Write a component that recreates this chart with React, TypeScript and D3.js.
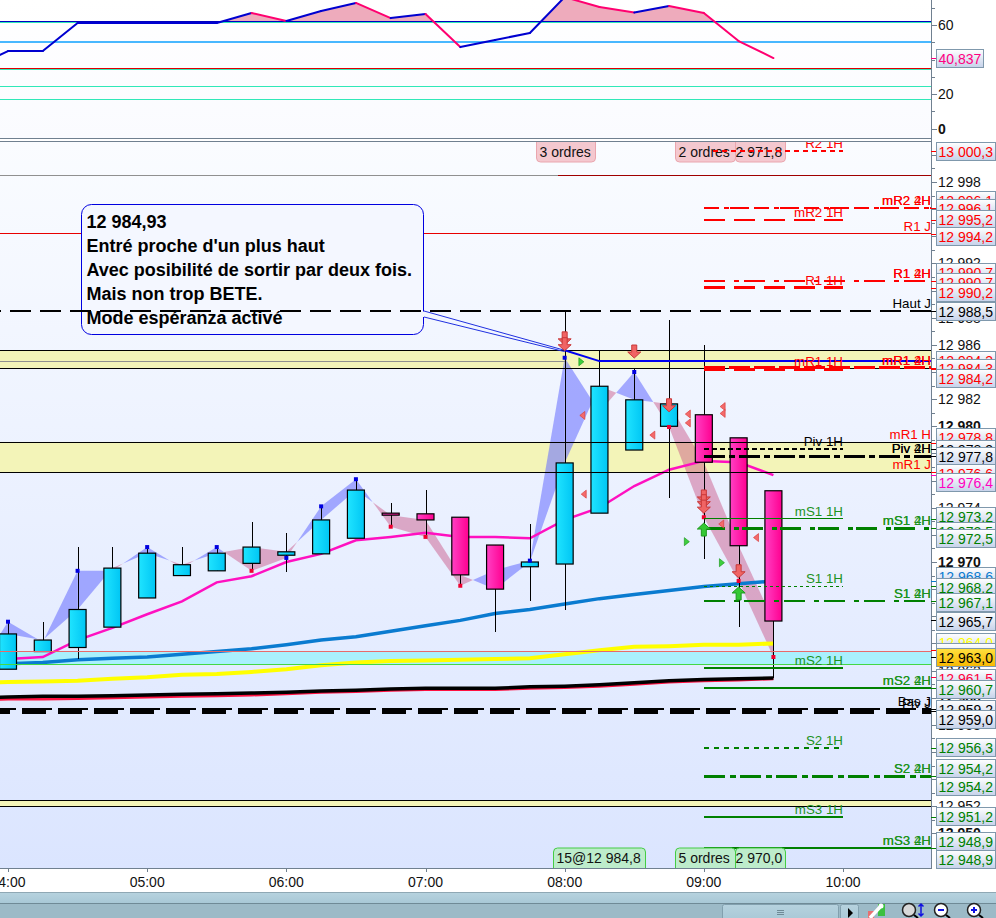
import React, { useEffect, useRef } from 'react';
import * as d3 from 'd3';

// first bar sits just off the left edge, only its lines reach into the picture
const barTimes = ['03:45','04:00','04:15','04:30','04:45','05:00','05:15','05:30','05:45','06:00','06:15','06:30','06:45','07:00','07:15','07:30','07:45','08:00','08:15','08:30','08:45','09:00','09:15','09:30'];
const candleOpen = [12961.0,12962.1,12963.4,12963.7,12965.2,12967.35,12969.0,12969.35,12969.9,12970.5,12970.6,12971.75,12973.6,12973.55,12973.3,12971.25,12969.65,12969.85,12973.6,12978.25,12980.0,12980.85,12979.15,12975.25];
const candleHigh = [12961.5,12965.6,12965.6,12971.1,12971.1,12971.1,12971.1,12971.1,12972.95,12972.15,12974.1,12976.1,12974.35,12975.3,12973.3,12971.25,12972.8,12988.4,12985.55,12984.3,12987.85,12986.0,12979.15,12975.25];
const candleLow = [12960.9,12962.1,12963.4,12962.85,12965.2,12967.35,12969.0,12969.35,12969.25,12969.25,12970.6,12971.75,12972.6,12971.85,12968.15,12964.85,12967.1,12966.5,12973.6,12978.25,12974.7,12970.2,12965.2,12961.45];
const candleClose = [12961.0,12964.7,12964.25,12966.5,12969.55,12970.65,12969.8,12970.65,12971.1,12970.75,12973.1,12975.3,12973.45,12973.1,12969.05,12968.0,12970.0,12977.3,12982.95,12981.95,12981.65,12977.35,12971.2,12965.65];
const swingLine = [12961.5,12965.6,12964.1,12969.35,12969.35,12971.1,12969.55,12971.1,12969.35,12970.3,12974.1,12976.1,12972.6,12971.85,12968.25,12969.4,12970.1,12985.05,12981.05,12984.0,12979.95,12973.3,12968.6,12963.0];
const maMagenta = [12962.7,12962.85,12963.0,12964.25,12965.15,12966.15,12967.1,12968.5,12968.95,12970.0,12970.6,12971.6,12971.85,12972.15,12971.85,12971.85,12971.75,12973.1,12974.0,12975.6,12976.8,12977.45,12977.35,12976.4];
const maBlue = [12962.3,12962.5,12962.6,12962.8,12962.9,12963.0,12963.2,12963.4,12963.6,12963.9,12964.25,12964.5,12964.9,12965.3,12965.7,12966.2,12966.5,12966.9,12967.3,12967.6,12967.9,12968.2,12968.4,12968.6];
const maYellow = [12961.1,12961.15,12961.2,12961.25,12961.4,12961.5,12961.7,12961.75,12961.9,12962.1,12962.4,12962.6,12962.7,12962.75,12962.8,12962.85,12962.9,12963.2,12963.5,12963.75,12963.8,12963.9,12963.9,12964.0];
const maBlack = [12960.0,12960.05,12960.1,12960.1,12960.15,12960.2,12960.25,12960.3,12960.35,12960.4,12960.5,12960.55,12960.65,12960.7,12960.7,12960.7,12960.8,12960.85,12960.95,12961.1,12961.25,12961.35,12961.4,12961.45];
const maRed = [12959.85,12959.9,12959.9,12959.95,12960.0,12960.05,12960.1,12960.15,12960.2,12960.3,12960.4,12960.45,12960.55,12960.6,12960.6,12960.6,12960.7,12960.75,12960.85,12961.0,12961.15,12961.25,12961.3,12961.4];

const rsiValues = [35,44.9,44.9,61.2,61.2,61.2,61.2,61.2,67,62.3,68.1,72.8,64,66.4,47.2,51.3,55.4,76.2,70.4,67.2,71,67,50.7,40.837];
const rsiLevels = [62,61.4,50,34.8,34.3,24.5,17];
const rsiLevelColors = ['#0000c0','#30e8b8','#48b8ff','#dd0000','#30e8b8','#30e8b8','#30e8b8'];
const rsiTicks = [0,10,20,30,40,50,60,70];
const rsiLabels = [60,20,0];

const highMarkers = ['04:00','04:30','05:00','05:30','06:00','06:15','06:30','07:45','08:00','08:30'];
const lowMarkers = ['05:45','06:45','07:00','07:15','08:45','09:00','09:15','09:30'];

const bandPrices = [[12985.6,12984.3],[12978.85,12976.6],[12952.45,12952.0]];
const cyanBand = [12963.45,12962.45];
const priceTicks = d3.range(12950, 13001);

const shortNames = ['R2 1H','mR2 1H','R1 1H','mR1 1H','Piv 1H','mS1 1H','S1 1H','mS2 1H','S2 1H','mS3 1H'];
const shortPrices = [13000.3,12995.2,12990.2,12984.2,12978.3,12973.2,12968.2,12962.2,12956.3,12951.2];
const shortColors = ['#ff0000','#ff0000','#ff0000','#ff0000','#000000','#008000','#008000','#008000','#008000','#008000'];
const shortDash = ['5 4','21 9','21 9','21 9','5 3','none','3 3','none','5 5','none'];
const shortWidth = [2,2,3,3,2,1,1,2,2,2];

const longNames = ['mR2','R1','mR1','Piv','mS1','S1','mS2','S2','mS3'];
const longPrices = [12996.1,12990.7,12984.3,12977.8,12972.5,12967.1,12960.7,12954.2,12948.9];
const longColors = ['#ff0000','#ff0000','#ff0000','#000000','#008000','#008000','#008000','#008000','#008000'];
const longDash = ['15 5 5 1 19 5','21 9 5 5','21 4','21 4 6 4','21 9 5 3','21 9 5 5','none','21 5 6 4','none'];
const longWidth = [2,2,3,3,3,2,2,2.5,2];

const dayNames = ['R1 J','Haut J','mR1 H','mR1 J','Bas J','Piv J'];
const dayPrices = [12994.2,12988.5,12978.85,12976.6,12959.2,12959.0];
const dayColors = ['#ff0000','#000000','#ff0000','#ff0000','#000000','#000000'];

const tagValues = [13000.3,12996.1,12996.1,12995.2,12994.2,12990.7,12990.7,12990.2,12988.5,12984.3,12984.3,12984.2,12978.8,12978.3,12977.8,12976.6,12976.4,12973.2,12972.5,12972.5,12968.6,12968.2,12967.1,12965.7,12964.0,12963.5,12963.0,12961.5,12960.7,12959.2,12959.0,12956.3,12954.2,12954.2,12951.2,12948.9,12948.9];
const tagColors = ['#ff0000','#ff0000','#ff0000','#ff0000','#ff0000','#ff0000','#ff0000','#ff0000','#000000','#ff0000','#ff0000','#ff0000','#ff0000','#000000','#000000','#ff0000','#ff00c0','#008000','#008000','#008000','#0a7bd0','#008000','#008000','#000000','#ffff00','#ff0000','#000000','#ff0040','#008000','#000000','#000000','#008000','#008000','#008000','#008000','#008000','#008000'];
// tags get pushed around by the platform so they don't collide, these are the box tops
const tagTops = [142,191,199,210,227,263,273,283,302,351,359,369,428,440,447,464,473,507,522,529,567,578,593,612,633,643,648,669,680,700,710,738,759,777,807,832,850];

const triangleRightTimes = [8.12,8.878,9.13];
const triangleRightPrices = [12984.75,12971.5,12969.95];
const triangleLeftTimes = [8.127,8.137,8.63,8.885,8.885,9.135,9.135,9.125,9.375];
const triangleLeftPrices = [12980.8,12975,12979.35,12980.9,12980.25,12981.45,12980.95,12972.8,12971.8];
const downArrowTimes = [8,8,8.5,8.75,9,9,9,9.25];
const downArrowTips = [12986,12985.57,12985.03,12981.07,12974.35,12974,12973.6,12968.84];
const upArrowTimes = [9,9.25];
const upArrowTips = [12972.87,12968.16];

const noteLines = ["12 984,93", "Entré proche d'un plus haut", 'Avec posibilité de sortir par deux fois.', 'Mais non trop BETE.', 'Mode espéranza activé'];
const axisHours = [4,5,6,7,8,9,10];
const FONT = '"Liberation Sans", Arial, sans-serif';

const hourOf = (t: string) => +t.slice(0, 2) + +t.slice(3) / 60;

const frPrice = (v: number, digits = 1) => {
  const s = v.toFixed(digits).replace('.', ',');
  const cut = s.indexOf(',') < 0 ? s.length : s.indexOf(',');
  return s.slice(0, cut - 3) + ' ' + s.slice(cut - 3);
};

const App = () => {
  const ref = useRef<SVGSVGElement | null>(null);

  useEffect(() => {
    const svg = d3.select(ref.current);
    svg.selectAll('*').remove();

    const x = d3.scaleLinear().domain([4, 10]).range([8, 843]);
    const y = d3.scaleLinear().domain([12998, 12970]).range([182, 562]);
    const rsiY = d3.scaleLinear().domain([0, 60]).range([128.5, 25]);
    const right = 931;
    const px = (v: number) => Math.round(v) + 0.5;

    const defs = svg.append('defs');
    const gradient = (id: string, horizontal: boolean, stops: string[]) => {
      const g = defs.append('linearGradient').attr('id', id)
        .attr('x1', 0).attr('y1', 0).attr('x2', horizontal ? 1 : 0).attr('y2', horizontal ? 0 : 1);
      stops.forEach((c, i) => g.append('stop').attr('offset', i / (stops.length - 1)).attr('stop-color', c));
    };
    gradient('bull', true, ['#20e4ff', '#00c6f4']);
    gradient('bear', true, ['#ff40c4', '#ff0090']);
    gradient('panel', false, ['#fafcff', '#dbe5ff']);
    gradient('panelTop', false, ['#ffffff', '#fafbff']);
    gradient('tag', false, ['#ffffff', '#c6d2ea']);
    gradient('gold', false, ['#ffe040', '#f8b800']);
    gradient('toolbar', false, ['#b6d2de', '#a8c8d6']);
    defs.append('clipPath').attr('id', 'priceClip').append('rect').attr('x', 0).attr('y', 142).attr('width', right).attr('height', 726);
    defs.append('clipPath').attr('id', 'rsiClip').append('rect').attr('x', 0).attr('y', 0).attr('width', right).attr('height', 138);
    defs.append('clipPath').attr('id', 'rsiFillClip').append('rect').attr('x', 0).attr('y', 0).attr('width', right).attr('height', rsiY(62));

    svg.append('rect').attr('width', 996).attr('height', 918).attr('fill', '#ffffff');
    svg.append('rect').attr('width', right).attr('height', 138).attr('fill', 'url(#panelTop)');
    svg.append('rect').attr('y', 141).attr('width', right).attr('height', 727).attr('fill', 'url(#panel)');

    const hours = barTimes.map(hourOf);

    // RSI panel
    const rsi = svg.append('g').attr('clip-path', 'url(#rsiClip)');
    const rsiArea = d3.area<number>().x((_, i) => x(hours[i])).y0(rsiY(62)).y1(d => rsiY(d));
    rsi.append('path').attr('d', rsiArea(rsiValues)).attr('fill', '#eeabbc').attr('clip-path', 'url(#rsiFillClip)');
    rsiLevels.forEach((l, i) => {
      rsi.append('line').attr('x1', 0).attr('x2', right).attr('y1', rsiY(l)).attr('y2', rsiY(l))
        .attr('stroke', rsiLevelColors[i]).attr('stroke-width', i === 2 ? 2 : 1).attr('shape-rendering', 'crispEdges');
    });
    d3.pairs(rsiValues).forEach(([a, b], i) => {
      rsi.append('line')
        .attr('x1', x(hours[i])).attr('y1', rsiY(a))
        .attr('x2', x(hours[i + 1])).attr('y2', rsiY(b))
        .attr('stroke', b < a ? '#ff0070' : '#0000d0').attr('stroke-width', 2).attr('stroke-linecap', 'round');
    });

    // price panel
    const main = svg.append('g').attr('clip-path', 'url(#priceClip)');
    bandPrices.forEach(([hi, lo]) => {
      main.append('rect').attr('x', 0).attr('width', right).attr('y', y(hi)).attr('height', y(lo) - y(hi)).attr('fill', '#f3f4b8');
    });
    main.append('rect').attr('x', 0).attr('width', right).attr('y', y(cyanBand[0])).attr('height', y(cyanBand[1]) - y(cyanBand[0])).attr('fill', '#a9f0fd');

    // cloud between the swing line and the closes, split where they cross
    d3.pairs(hours).forEach(([h0, h1], i) => {
      const a0 = swingLine[i] - candleClose[i];
      const a1 = swingLine[i + 1] - candleClose[i + 1];
      const colorOf = (d: number) => (d > 0 ? '#6a72ff' : '#c84e80');
      const opacityOf = (d: number) => (d > 0 ? 0.58 : 0.45);
      const poly = (pts: number[][], d: number) => {
        main.append('polygon')
          .attr('points', pts.map(p => `${x(p[0])},${y(p[1])}`).join(' '))
          .attr('fill', colorOf(d)).attr('fill-opacity', opacityOf(d));
      };
      if (a0 * a1 < 0) {
        const t = a0 / (a0 - a1);
        const hc = h0 + t * (h1 - h0);
        const pc = candleClose[i] + t * (candleClose[i + 1] - candleClose[i]);
        poly([[h0, swingLine[i]], [hc, pc], [h0, candleClose[i]]], a0);
        poly([[hc, pc], [h1, swingLine[i + 1]], [h1, candleClose[i + 1]]], a1);
      } else {
        poly([[h0, swingLine[i]], [h1, swingLine[i + 1]], [h1, candleClose[i + 1]], [h0, candleClose[i]]], a0 + a1);
      }
    });

    const maLine = d3.line<number>().x((_, i) => x(hours[i])).y(d => y(d));
    const drawMa = (values: number[], color: string, width: number) => {
      main.append('path').attr('d', maLine(values)).attr('fill', 'none').attr('stroke', color).attr('stroke-width', width);
    };
    drawMa(maRed, '#ff1040', 3);
    drawMa(maBlack, '#000000', 3.5);
    drawMa(maYellow, '#ffff00', 4);
    drawMa(maBlue, '#0a7bd0', 3.5);
    drawMa(maMagenta, '#ff10c0', 2.5);

    // wicks and bodies
    barTimes.forEach((t, i) => {
      const cx = x(hourOf(t));
      const bull = candleClose[i] >= candleOpen[i];
      const top = y(Math.max(candleOpen[i], candleClose[i]));
      const bottom = y(Math.min(candleOpen[i], candleClose[i]));
      main.append('line').attr('x1', px(cx)).attr('x2', px(cx)).attr('y1', y(candleHigh[i])).attr('y2', y(candleLow[i]))
        .attr('stroke', '#000').attr('shape-rendering', 'crispEdges');
      main.append('rect').attr('x', cx - 8.5).attr('width', 17).attr('y', top).attr('height', bottom - top)
        .attr('fill', bull ? 'url(#bull)' : 'url(#bear)').attr('stroke', '#000').attr('stroke-width', 1.2);
    });

    // swing markers
    highMarkers.forEach(t => {
      const i = barTimes.indexOf(t);
      main.append('rect').attr('x', x(hours[i]) - 2).attr('y', y(swingLine[i]) - 2).attr('width', 4).attr('height', 4).attr('fill', '#0000e0');
    });
    lowMarkers.forEach(t => {
      const i = barTimes.indexOf(t);
      main.append('rect').attr('x', x(hours[i]) - 2).attr('y', y(swingLine[i]) - 2).attr('width', 4).attr('height', 4).attr('fill', '#f00030');
    });

    // band borders run over the candles
    bandPrices.forEach(([hi, lo]) => {
      [hi, lo].forEach(p => {
        main.append('line').attr('x1', 0).attr('x2', right).attr('y1', px(y(p))).attr('y2', px(y(p))).attr('stroke', '#000').attr('shape-rendering', 'crispEdges');
      });
    });
    main.append('line').attr('x1', 0).attr('x2', right).attr('y1', px(y(cyanBand[0]))).attr('y2', px(y(cyanBand[0]))).attr('stroke', '#e86a6a').attr('shape-rendering', 'crispEdges');
    main.append('line').attr('x1', 0).attr('x2', right).attr('y1', px(y(cyanBand[1]))).attr('y2', px(y(cyanBand[1]))).attr('stroke', '#44d844').attr('shape-rendering', 'crispEdges');

    const hLine = (x1: number, x2: number, p: number, color: string, width: number, dash = 'none') => {
      main.append('line').attr('x1', x1).attr('x2', x2).attr('y1', y(p)).attr('y2', y(p))
        .attr('stroke', color).attr('stroke-width', width).attr('stroke-dasharray', dash).attr('shape-rendering', 'crispEdges');
    };
    hLine(0, x(7.95), 12998.5, '#909090', 1);
    hLine(x(7.95), right, 12998.5, '#a00000', 1);
    hLine(0, x(8), 12984.8, '#909090', 1);
    hLine(0, right, 12994.2, '#e80000', 1);

    // note box, sits over the red day line but under the dashes
    main.append('rect').attr('x', 81.5).attr('y', 204.5).attr('width', 342).attr('height', 130).attr('rx', 10)
      .attr('fill', '#f4f7ff').attr('stroke', '#0000e0').attr('stroke-width', 1);
    main.append('line').attr('x1', 423.5).attr('x2', 423.5).attr('y1', 311.5).attr('y2', 317).attr('stroke', '#f4f7ff').attr('stroke-width', 1.5);
    main.append('line').attr('x1', 424).attr('y1', 311).attr('x2', x(8)).attr('y2', y(12985.6)).attr('stroke', '#2030e0');
    main.append('line').attr('x1', 424).attr('y1', 317).attr('x2', x(8)).attr('y2', y(12985.5)).attr('stroke', '#2030e0');
    noteLines.forEach((t, i) => {
      main.append('text').attr('x', 86.5).attr('y', 228 + i * 24).text(t)
        .attr('font-family', FONT).attr('font-size', 18).attr('font-weight', 'bold').attr('fill', '#000');
    });
    main.append('line').attr('x1', x(8)).attr('y1', y(12985.6)).attr('x2', x(8.25)).attr('y2', y(12984.8)).attr('stroke', '#0000f0').attr('stroke-width', 2);
    hLine(x(8.25), right, 12984.8, '#0000f0', 2);

    // day lines
    hLine(-20, right, 12988.5, '#000000', 2, '21 9');
    hLine(-14, right, 12959.0, '#000000', 5, '24 12');
    hLine(-14, right, 12959.2, '#000000', 2, '30 6');

    // 1H levels to 10:00, 2H and 4H ones to the edge
    shortNames.forEach((n, i) => {
      hLine(x(9), x(10), shortPrices[i], shortColors[i], shortWidth[i], shortDash[i]);
    });
    longNames.forEach((n, i) => {
      hLine(x(9), right, longPrices[i], longColors[i], longWidth[i], longDash[i]);
    });

    const levelText = (t: string, endX: number, baseline: number, color: string) => {
      main.append('text').attr('x', endX).attr('y', baseline).attr('text-anchor', 'end').text(t)
        .attr('font-family', FONT).attr('font-size', 13.33).attr('fill', color);
    };
    const soften = (c: string) => (c === '#008000' ? '#1d931d' : c);
    shortNames.forEach((n, i) => levelText(n, x(10), y(shortPrices[i]) - 3, soften(shortColors[i])));
    longNames.forEach((n, i) => {
      levelText(n + ' 2H', right, y(longPrices[i]) - 3, soften(longColors[i]));
      levelText(n + ' 4H', right, y(longPrices[i]) - 3, soften(longColors[i]));
    });
    dayNames.forEach((n, i) => levelText(n, right, y(dayPrices[i]) - 3, dayColors[i]));

    // little order triangles
    const triangle = (h: number, p: number, dir: number, color: string, edge: string) => {
      const cx = x(h), cy = y(p);
      main.append('path').attr('d', `M${cx - dir * 2.5},${cy - 4}L${cx + dir * 2.5},${cy}L${cx - dir * 2.5},${cy + 4}Z`)
        .attr('fill', color).attr('stroke', edge).attr('stroke-width', 0.7);
    };
    triangleRightTimes.forEach((h, i) => triangle(h, triangleRightPrices[i], 1, '#3ecf3e', '#1f9a1f'));
    triangleLeftTimes.forEach((h, i) => triangle(h, triangleLeftPrices[i], -1, '#f46a6a', '#d84040'));

    const arrow = (h: number, p: number, dir: number, color: string, edge: string) => {
      const cx = x(h), tip = y(p);
      const s = (d: number) => tip + dir * d;
      const path = `M${cx},${tip}L${cx + 6.5},${s(6)}L${cx + 2.5},${s(6)}L${cx + 2.5},${s(13)}L${cx - 2.5},${s(13)}L${cx - 2.5},${s(6)}L${cx - 6.5},${s(6)}Z`;
      main.append('path').attr('d', path).attr('fill', color).attr('stroke', edge).attr('stroke-width', 1);
    };
    downArrowTimes.forEach((h, i) => arrow(h, downArrowTips[i], -1, '#f06464', '#c83838'));
    upArrowTimes.forEach((h, i) => arrow(h, upArrowTips[i], 1, '#34c834', '#1f9a1f'));

    // order tags on the panel edges
    const orderTag = (x0: number, x1: number, top: number, label: string, fill: string, edge: string, upper: boolean, pad = 3) => {
      const h = 20, r = 4;
      const d = upper
        ? `M${x0},${top}V${top + h - r}Q${x0},${top + h} ${x0 + r},${top + h}H${x1 - r}Q${x1},${top + h} ${x1},${top + h - r}V${top}`
        : `M${x0},${top + h}V${top + r}Q${x0},${top} ${x0 + r},${top}H${x1 - r}Q${x1},${top} ${x1},${top + r}V${top + h}`;
      svg.append('path').attr('d', d).attr('fill', fill).attr('stroke', edge);
      svg.append('text').attr('x', x0 + pad).attr('y', top + 15).text(label)
        .attr('font-family', FONT).attr('font-size', 14).attr('fill', '#111');
    };
    orderTag(536.5, 595.5, 142, '3 ordres', '#f4c8cf', '#eaa6ae', true);
    orderTag(735.5, 785.5, 142, '2 971,8', '#f4c8cf', '#eaa6ae', true, 0);
    orderTag(675.5, 735.5, 142, '2 ordres', '#f4c8cf', '#eaa6ae', true);
    orderTag(553.5, 645.5, 848, '15@12 984,8', '#bdeccb', '#44cc44', false);
    orderTag(735.5, 785.5, 848, '2 970,0', '#bdeccb', '#44cc44', false, 0);
    orderTag(675.5, 735.5, 848, '5 ordres', '#bdeccb', '#44cc44', false);
    // R2 dashes stay visible over the pink tag
    svg.append('line').attr('x1', 713).attr('x2', x(10)).attr('y1', y(13000.3)).attr('y2', y(13000.3))
      .attr('stroke', '#ff0000').attr('stroke-width', 2).attr('stroke-dasharray', '5 4').attr('shape-rendering', 'crispEdges');

    // axes frames
    const frame = svg.append('g').attr('stroke', '#708090').attr('shape-rendering', 'crispEdges');
    frame.append('line').attr('x1', 0).attr('x2', right + 0.5).attr('y1', 138.5).attr('y2', 138.5);
    frame.append('line').attr('x1', 0).attr('x2', right + 0.5).attr('y1', 141.5).attr('y2', 141.5);
    frame.append('line').attr('x1', 0).attr('x2', right + 0.5).attr('y1', 868.5).attr('y2', 868.5);
    frame.append('line').attr('x1', right + 0.5).attr('x2', right + 0.5).attr('y1', 0).attr('y2', 868.5);

    // rsi axis
    rsiTicks.forEach(v => {
      const long = rsiLabels.includes(v);
      frame.append('line').attr('x1', right).attr('x2', right + (long ? 6 : 4)).attr('y1', px(rsiY(v))).attr('y2', px(rsiY(v)));
    });
    rsiLabels.forEach(v => {
      svg.append('text').attr('x', 938).attr('y', rsiY(v) + 5).text(v)
        .attr('font-family', FONT).attr('font-size', 14).attr('fill', '#111').attr('font-weight', v === 0 ? 'bold' : 'normal');
    });

    // price axis
    priceTicks.forEach(v => {
      const even = v % 2 === 0;
      frame.append('line').attr('x1', right).attr('x2', right + (even ? 6 : 4)).attr('y1', px(y(v))).attr('y2', px(y(v)));
      if (even && v <= 12998) {
        svg.append('text').attr('x', 938).attr('y', y(v) + 5).text(frPrice(v, 0))
          .attr('font-family', FONT).attr('font-size', 14).attr('fill', '#111').attr('font-weight', v % 10 === 0 ? 'bold' : 'normal');
      }
    });

    // value tags, later ones cover earlier ones
    const valueTag = (top: number, w: number, label: string, color: string, tick: number, gold = false) => {
      svg.append('line').attr('x1', right).attr('x2', 936).attr('y1', px(tick)).attr('y2', px(tick))
        .attr('stroke', color === '#ffff00' ? '#708090' : color).attr('shape-rendering', 'crispEdges');
      svg.append('rect').attr('x', 936.5).attr('y', top + 0.5).attr('width', w).attr('height', 18)
        .attr('fill', gold ? 'url(#gold)' : 'url(#tag)').attr('stroke', '#7f98ac');
      svg.append('text').attr('x', 938.5).attr('y', top + 14.5).text(label)
        .attr('font-family', FONT).attr('font-size', 14).attr('fill', color);
    };
    valueTag(49, 47, '40,837', '#ff0080', rsiY(40.837));
    tagValues.forEach((v, i) => {
      valueTag(tagTops[i], 59, frPrice(v), tagColors[i], y(v), v === 12963.0);
    });

    // time axis
    axisHours.forEach(h => {
      svg.append('line').attr('x1', px(x(h))).attr('x2', px(x(h))).attr('y1', 868).attr('y2', 872)
        .attr('stroke', '#708090').attr('shape-rendering', 'crispEdges');
      svg.append('text').attr('x', x(h)).attr('y', 887).attr('text-anchor', 'middle')
        .text(`${String(h).padStart(2, '0')}:00`)
        .attr('font-family', FONT).attr('font-size', 14).attr('fill', '#111');
    });

    // toolbar along the bottom
    svg.append('rect').attr('y', 892).attr('width', 996).attr('height', 26).attr('fill', '#9cbac7');
    svg.append('rect').attr('y', 893).attr('width', 996).attr('height', 10).attr('fill', 'url(#toolbar)');
    svg.append('line').attr('x1', 0).attr('x2', 996).attr('y1', 892.5).attr('y2', 892.5).attr('stroke', '#8fa8b4').attr('shape-rendering', 'crispEdges');
    svg.append('line').attr('x1', 0).attr('x2', 996).attr('y1', 903.5).attr('y2', 903.5).attr('stroke', '#6f8a96').attr('shape-rendering', 'crispEdges');
    svg.append('rect').attr('x', 722.5).attr('y', 904.5).attr('width', 116).attr('height', 16).attr('rx', 2).attr('fill', 'url(#toolbar)').attr('stroke', '#82a0ae');
    [0, 2, 4].forEach(d => {
      svg.append('line').attr('x1', 777).attr('x2', 784).attr('y1', 910.5 + d).attr('y2', 910.5 + d).attr('stroke', '#6f8a96');
    });
    svg.append('rect').attr('x', 840.5).attr('y', 904.5).attr('width', 18).attr('height', 16).attr('rx', 2).attr('fill', 'url(#toolbar)').attr('stroke', '#82a0ae');
    svg.append('path').attr('d', 'M848,908L853,913L848,918Z').attr('fill', '#000');
    // wrench
    svg.append('rect').attr('x', 878).attr('y', 904).attr('width', 7).attr('height', 12).attr('fill', '#3cc040');
    svg.append('rect').attr('x', 868).attr('y', 911).attr('width', 6).attr('height', 7).attr('fill', '#e87070');
    svg.append('path').attr('d', 'M870,918L880,907').attr('stroke', '#fff').attr('stroke-width', 3.5);
    svg.append('circle').attr('cx', 881).attr('cy', 906).attr('r', 2.5).attr('fill', '#fff');
    // zoom buttons
    [910, 942, 975].forEach((cx, i) => {
      svg.append('circle').attr('cx', cx - 1).attr('cy', 910).attr('r', 6.5)
        .attr('fill', i === 0 ? '#d8d8d8' : '#ffffff').attr('stroke', '#222').attr('stroke-width', 1.5);
      svg.append('line').attr('x1', cx + 4).attr('y1', 915).attr('x2', cx + 8).attr('y2', 918).attr('stroke', '#000').attr('stroke-width', 2);
    });
    svg.append('path').attr('d', 'M921,904V916M918.5,906.5L921,904L923.5,906.5M918.5,913.5L921,916L923.5,913.5').attr('fill', 'none').attr('stroke', '#1010e0').attr('stroke-width', 1.5);
    svg.append('line').attr('x1', 938).attr('x2', 944).attr('y1', 910).attr('y2', 910).attr('stroke', '#1010e0').attr('stroke-width', 2);
    svg.append('path').attr('d', 'M971,910H977M974,907V913').attr('stroke', '#1010e0').attr('stroke-width', 2);
  }, []);

  return (
    <svg ref={ref} width={996} height={918} style={{ position: 'absolute', left: 0, top: 0, display: 'block' }} />
  );
};

export default App;
